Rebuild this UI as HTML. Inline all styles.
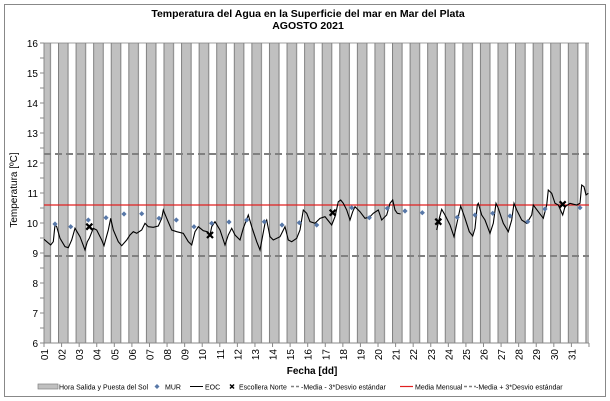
<!DOCTYPE html>
<html><head><meta charset="utf-8"><style>
html,body{margin:0;padding:0;background:#fff;}
svg{display:block;font-family:"Liberation Sans",sans-serif;}
</style></head><body>
<svg width="610" height="401" viewBox="0 0 610 401" xmlns="http://www.w3.org/2000/svg" xmlns:xlink="http://www.w3.org/1999/xlink">
<defs>
<pattern id="bp" patternUnits="userSpaceOnUse" x="58" y="0" width="17.58" height="401">
<rect x="0.5" y="-1" width="9.58" height="403" fill="#c0c0c0" stroke="#808080" stroke-width="1"/>
</pattern>
<polygon id="dm" points="0,-2.6 2.6,0 0,2.6 -2.6,0" fill="#5878a8"/>
<path id="xm" d="M-3,-3L3,3M3,-3L-3,3" stroke="#000" stroke-width="2.2"/>
</defs>
<rect x="4.5" y="4.5" width="601" height="392" fill="#fff" stroke="#888" stroke-width="1"/>
<text x="308" y="17" font-size="10.5" font-weight="bold" text-anchor="middle">Temperatura del Agua en la Superficie del mar en Mar del Plata</text>
<text x="308" y="29" font-size="10.5" font-weight="bold" text-anchor="middle">AGOSTO 2021</text>
<rect x="44" y="43" width="545" height="300" fill="url(#bp)"/>
<line x1="44" y1="43" x2="589" y2="43" stroke="#808080" stroke-width="0.8"/>
<!-- axes -->
<line x1="44" y1="43" x2="44" y2="343" stroke="#888"/>
<line x1="44" y1="343" x2="589" y2="343" stroke="#888"/>
<line x1="42" y1="42.5" x2="42" y2="344" stroke="#888" stroke-width="4" stroke-dasharray="1 14"/>
<line x1="43.5" y1="345" x2="590" y2="345" stroke="#888" stroke-width="4" stroke-dasharray="1 16.58"/>
<g font-size="10" text-anchor="end" fill="#000">
<text x="38" y="47">16</text><text x="38" y="77">15</text><text x="38" y="107">14</text><text x="38" y="137">13</text><text x="38" y="167">12</text><text x="38" y="197">11</text><text x="38" y="227">10</text><text x="38" y="257">9</text><text x="38" y="287">8</text><text x="38" y="317">7</text><text x="38" y="347">6</text>
</g>
<g font-size="10" text-anchor="end">
<text transform="translate(48,349) rotate(-90)">01</text>
<text transform="translate(65.6,349) rotate(-90)">02</text>
<text transform="translate(83.2,349) rotate(-90)">03</text>
<text transform="translate(100.7,349) rotate(-90)">04</text>
<text transform="translate(118.3,349) rotate(-90)">05</text>
<text transform="translate(135.9,349) rotate(-90)">06</text>
<text transform="translate(153.5,349) rotate(-90)">07</text>
<text transform="translate(171.1,349) rotate(-90)">08</text>
<text transform="translate(188.6,349) rotate(-90)">09</text>
<text transform="translate(206.2,349) rotate(-90)">10</text>
<text transform="translate(223.8,349) rotate(-90)">11</text>
<text transform="translate(241.4,349) rotate(-90)">12</text>
<text transform="translate(259,349) rotate(-90)">13</text>
<text transform="translate(276.5,349) rotate(-90)">14</text>
<text transform="translate(294.1,349) rotate(-90)">15</text>
<text transform="translate(311.7,349) rotate(-90)">16</text>
<text transform="translate(329.3,349) rotate(-90)">17</text>
<text transform="translate(346.9,349) rotate(-90)">18</text>
<text transform="translate(364.4,349) rotate(-90)">19</text>
<text transform="translate(382,349) rotate(-90)">20</text>
<text transform="translate(399.6,349) rotate(-90)">21</text>
<text transform="translate(417.2,349) rotate(-90)">22</text>
<text transform="translate(434.8,349) rotate(-90)">23</text>
<text transform="translate(452.3,349) rotate(-90)">24</text>
<text transform="translate(469.9,349) rotate(-90)">25</text>
<text transform="translate(487.5,349) rotate(-90)">26</text>
<text transform="translate(505.1,349) rotate(-90)">27</text>
<text transform="translate(522.7,349) rotate(-90)">28</text>
<text transform="translate(540.2,349) rotate(-90)">29</text>
<text transform="translate(557.8,349) rotate(-90)">30</text>
<text transform="translate(575.4,349) rotate(-90)">31</text>
</g>
<text transform="translate(17,190) rotate(-90)" font-size="10" text-anchor="middle">Temperatura [ºC]</text>
<text x="312" y="374" font-size="10" font-weight="bold" text-anchor="middle">Fecha [dd]</text>
<!-- reference lines -->
<line x1="44" y1="154" x2="589" y2="154" stroke="#808080" stroke-width="2" stroke-dasharray="7,4"/>
<line x1="44" y1="256" x2="589" y2="256" stroke="#808080" stroke-width="2" stroke-dasharray="7,4"/>
<line x1="44" y1="205" x2="589" y2="205" stroke="#e02020" stroke-width="1.3"/>
<!-- EOC -->
<polyline fill="none" stroke="#000" stroke-width="1.1" points="44,239.3 50.7,245 53.3,241.7 55,225 56.7,226.7 60,238.3 65,246.7 68.3,247.7 71.7,240 75,228.3 80,236.7 85,250 87.3,241.7 89.3,238.3 93.3,228.3 96.7,230 101.7,240 104,245.7 108.3,230 110.7,218.3 113.3,230 118.3,241.7 121.7,245.7 126.7,240 130,235 133.3,231.7 136.7,233.3 141.7,230 145,223.3 148.3,226.7 153.3,227.3 158.3,226 161.7,218.3 163.3,210 166.7,218.3 171.7,230 176.7,231.7 183.3,233.3 188.3,241.7 191.7,245 195,231.7 198.3,226.7 203.3,230.7 207.3,231.7 210,235 211.7,226.7 215,221.7 220,230 225,245 228.3,235 231.7,228.3 235,235 240,240 243.3,228.3 248.3,215 251.7,226.7 256.7,241.7 260,250 265,223.3 266.7,220 270,236.7 273.3,240 280,236.7 285,226.7 288.3,240 291.7,241.7 296.7,238.3 300,230 303.3,210 306.7,213.3 310,221.7 315,223.3 320,218.3 325,216.7 331.7,225 335,216.7 338.3,201.7 340.7,200 343.3,203.3 346.7,210 350,220 352.7,211.7 355,206.7 360,211.7 365,218.3 370,216.7 373.3,213.3 378.3,210 381.7,220 386.7,215 390,203.3 392.7,200 395,210 397.3,213.3 400.7,214"/>
<polyline fill="none" stroke="#000" stroke-width="1.1" points="436.7,230 439.3,218.3 441.7,209.3 445,215 450,225 454,236.7 458.3,216.7 460.7,206 465,218.3 469.3,231.7 472.7,236 475,228.3 477.3,205 478.3,203.3 481.7,215 485,220 490,233.3 493.3,223.3 496,203.3 498.3,208.3 503.3,223.3 508.3,231.7 511.7,220 514,203.3 516.7,210 521.7,220 526.7,223.3 531.7,215 533.3,205 538.3,211.7 543.3,218.3 546.7,205 548.3,190 551.7,193.3 555,203.3 558.3,205 562.7,215 565,206.7 570,203.3 576.7,205 580,203.3 581.7,185 584,186.7 586,195 588.3,193.3"/>
<!-- MUR -->
<use xlink:href="#dm" x="55" y="224"/><use xlink:href="#dm" x="70.7" y="226.7"/><use xlink:href="#dm" x="88.3" y="220"/><use xlink:href="#dm" x="106" y="217.7"/><use xlink:href="#dm" x="124" y="214"/><use xlink:href="#dm" x="141.7" y="213.7"/><use xlink:href="#dm" x="159" y="218.3"/><use xlink:href="#dm" x="176.3" y="220"/><use xlink:href="#dm" x="194" y="226.7"/><use xlink:href="#dm" x="211.7" y="223.3"/><use xlink:href="#dm" x="229" y="222"/><use xlink:href="#dm" x="246.7" y="220"/><use xlink:href="#dm" x="264.3" y="221.7"/><use xlink:href="#dm" x="282" y="225"/><use xlink:href="#dm" x="299.3" y="222.7"/><use xlink:href="#dm" x="316.7" y="225"/><use xlink:href="#dm" x="351.7" y="207.7"/><use xlink:href="#dm" x="369.3" y="217.7"/><use xlink:href="#dm" x="387.3" y="208.3"/><use xlink:href="#dm" x="405" y="211"/><use xlink:href="#dm" x="422.3" y="212.7"/><use xlink:href="#dm" x="457.3" y="217.3"/><use xlink:href="#dm" x="475" y="215"/><use xlink:href="#dm" x="492.7" y="213.3"/><use xlink:href="#dm" x="510" y="216"/><use xlink:href="#dm" x="527.7" y="221.7"/><use xlink:href="#dm" x="545" y="209"/><use xlink:href="#dm" x="580" y="207.7"/>
<!-- Escollera -->
<use xlink:href="#xm" x="89.3" y="226.7"/><use xlink:href="#xm" x="210" y="235"/><use xlink:href="#xm" x="332.7" y="212.7"/><use xlink:href="#xm" x="438.3" y="221.7"/><use xlink:href="#xm" x="562.7" y="204.3"/>
<!-- legend -->
<g font-size="7" fill="#000">
<rect x="38" y="384" width="20" height="5" fill="#c0c0c0" stroke="#808080" stroke-width="0.7"/>
<text x="59" y="389.5">Hora Salida y Puesta del Sol</text>
<polygon points="157,384 159.5,386.5 157,389 154.5,386.5" fill="#5878a8"/>
<text x="165" y="389.5">MUR</text>
<line x1="190" y1="386.5" x2="203" y2="386.5" stroke="#000"/>
<text x="205" y="389.5">EOC</text>
<g stroke="#000" stroke-width="1.5"><line x1="230" y1="384.5" x2="234" y2="388.5"/><line x1="234" y1="384.5" x2="230" y2="388.5"/></g>
<text x="239" y="389.5">Escollera Norte</text>
<line x1="291" y1="386.5" x2="301" y2="386.5" stroke="#808080" stroke-width="1.5" stroke-dasharray="3,2"/>
<text x="301" y="389.5">-Media - 3*Desvio estándar</text>
<line x1="400" y1="386.5" x2="413" y2="386.5" stroke="#e02020" stroke-width="1.2"/>
<text x="415" y="389.5">Media Mensual</text>
<line x1="464" y1="386.5" x2="476" y2="386.5" stroke="#808080" stroke-width="1.5" stroke-dasharray="3,2"/>
<text x="476" y="389.5">-Media + 3*Desvio estándar</text>
</g>
</svg>
</body></html>
